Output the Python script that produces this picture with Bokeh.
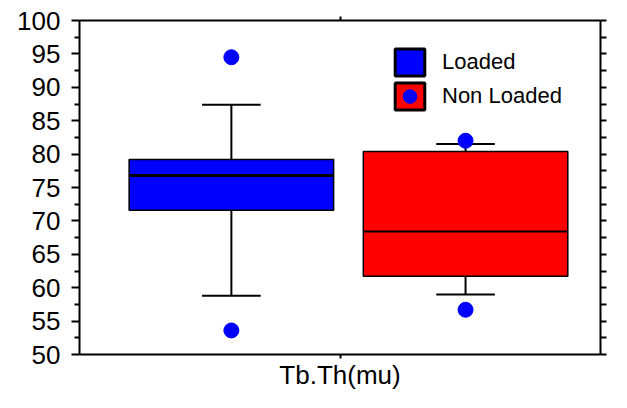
from bokeh.plotting import figure
from bokeh.models import (Range1d, LinearAxis, FixedTicker, Legend, LegendItem,
                          ColumnDataSource, CustomLabelingPolicy)
from bokeh.embed import file_html
from bokeh.resources import INLINE

# ---- data ----
categories = ["Loaded", "Non Loaded"]
whisker_low = [58.8, 59.0]
q1 = [71.6, 61.7]
median = [76.8, 68.4]
q3 = [79.2, 80.4]
whisker_high = [87.4, 81.5]
outliers_loaded = [94.5, 53.6]
outliers_nonloaded = [82.0, 56.7]
x_label = "Tb.Th(mu)"
y_ticks = [50, 55, 60, 65, 70, 75, 80, 85, 90, 95, 100]

# ---- layout / style ----
positions = [-0.417, 0.482]
box_w = 0.785
cap_w = 0.225
fills = ["#0000FF", "#FF0000"]
median_widths = [3, 2]
FONT = "Liberation Sans"
NAN = float("nan")

p = figure(width=611, height=392, x_range=Range1d(-1, 1), y_range=Range1d(50, 100),
           output_backend="svg", toolbar_location=None,
           x_axis_location=None, y_axis_location=None,
           min_border_left=79, min_border_top=20, min_border_right=0, min_border_bottom=0)
p.outline_line_color = None
p.background_fill_color = "white"
p.border_fill_color = "white"
p.grid.visible = False

minor = [t + 2.5 for t in y_ticks[:-1]]
hide_labels = CustomLabelingPolicy(code="for (const i of indices) indices.unset(i); return indices")

def style_axis(ax):
    ax.axis_line_color = "black"
    ax.axis_line_width = 2
    ax.major_tick_line_color = "black"
    ax.major_tick_line_width = 2
    ax.minor_tick_line_color = "black"
    ax.minor_tick_line_width = 2

left = LinearAxis(ticker=FixedTicker(ticks=y_ticks, minor_ticks=minor))
style_axis(left)
left.major_tick_out = 8
left.major_tick_in = 0
left.minor_tick_out = 5
left.minor_tick_in = 0
left.major_label_standoff = 11
left.major_label_text_font = FONT
left.major_label_text_font_size = "26px"
left.major_label_text_color = "black"
p.add_layout(left, "left")

right = LinearAxis(ticker=FixedTicker(ticks=y_ticks + minor, minor_ticks=[]))
style_axis(right)
right.major_tick_out = 6
right.major_tick_in = 0
right.minor_tick_out = 0
right.major_label_text_font_size = "1px"
right.major_label_standoff = 0
right.major_label_policy = hide_labels
p.add_layout(right, "right")

top = LinearAxis(ticker=FixedTicker(ticks=[0], minor_ticks=[]))
style_axis(top)
top.major_tick_out = 4
top.major_tick_in = 0
top.minor_tick_out = 0
top.major_label_text_font_size = "1px"
top.major_label_standoff = 0
top.major_label_policy = hide_labels
p.add_layout(top, "above")

bottom = LinearAxis(ticker=FixedTicker(ticks=[0], minor_ticks=[]),
                    major_label_overrides={0: x_label})
style_axis(bottom)
bottom.major_tick_out = 4
bottom.major_tick_in = 0
bottom.minor_tick_out = 0
bottom.major_label_standoff = 1
bottom.major_label_text_font = FONT
bottom.major_label_text_font_size = "26px"
bottom.major_label_text_color = "black"
p.add_layout(bottom, "below")

src = ColumnDataSource(dict(
    cat=categories, x=positions,
    left=[x - box_w / 2 for x in positions], right=[x + box_w / 2 for x in positions],
    cl=[x - cap_w / 2 for x in positions], cr=[x + cap_w / 2 for x in positions],
    lo=whisker_low, q1=q1, med=median, q3=q3, hi=whisker_high,
    fill=fills, mw=median_widths,
))

# whiskers
p.segment(x0="x", y0="q3", x1="x", y1="hi", source=src, line_color="black", line_width=2)
p.segment(x0="x", y0="q1", x1="x", y1="lo", source=src, line_color="black", line_width=2)
p.segment(x0="cl", y0="hi", x1="cr", y1="hi", source=src, line_color="black", line_width=2)
p.segment(x0="cl", y0="lo", x1="cr", y1="lo", source=src, line_color="black", line_width=2)
# boxes
p.quad(left="left", right="right", bottom="q1", top="q3", source=src,
       fill_color="fill", line_color="black", line_width=1.5)
# medians
p.segment(x0="left", y0="med", x1="right", y1="med", source=src,
          line_color="black", line_width="mw")
# outliers
out_x = [positions[0]] * len(outliers_loaded) + [positions[1]] * len(outliers_nonloaded)
out_y = outliers_loaded + outliers_nonloaded
p.scatter(x=out_x, y=out_y, size=15, marker="circle", color="#0000FF")

# legend-only renderers (no visible data in the plot)
def empty_quad():
    return ColumnDataSource(dict(left=[NAN], right=[NAN], top=[NAN], bottom=[NAN]))

lg1 = p.quad(source=empty_quad(), left="left", right="right", top="top",
             bottom="bottom", fill_color="#0000FF", line_color="black", line_width=3)
lg2 = p.quad(source=empty_quad(), left="left", right="right", top="top",
             bottom="bottom", fill_color="#FF0000", line_color="black", line_width=3)
lg3 = p.scatter(source=ColumnDataSource(dict(x=[NAN], y=[NAN])), x="x", y="y",
                marker="circle", color="#0000FF")

legend = Legend(items=[LegendItem(label=categories[0], renderers=[lg1]),
                       LegendItem(label=categories[1], renderers=[lg2, lg3])],
                location=(312, 241))
legend.glyph_width = 37
legend.glyph_height = 34
legend.spacing = 0
legend.padding = 0
legend.margin = 0
legend.label_standoff = 14
legend.label_height = 20
legend.label_text_font = FONT
legend.label_text_font_size = "22px"
legend.label_text_color = "black"
legend.border_line_color = None
legend.background_fill_alpha = 0
p.add_layout(legend)

open("out.html", "w").write(file_html(p, INLINE))
